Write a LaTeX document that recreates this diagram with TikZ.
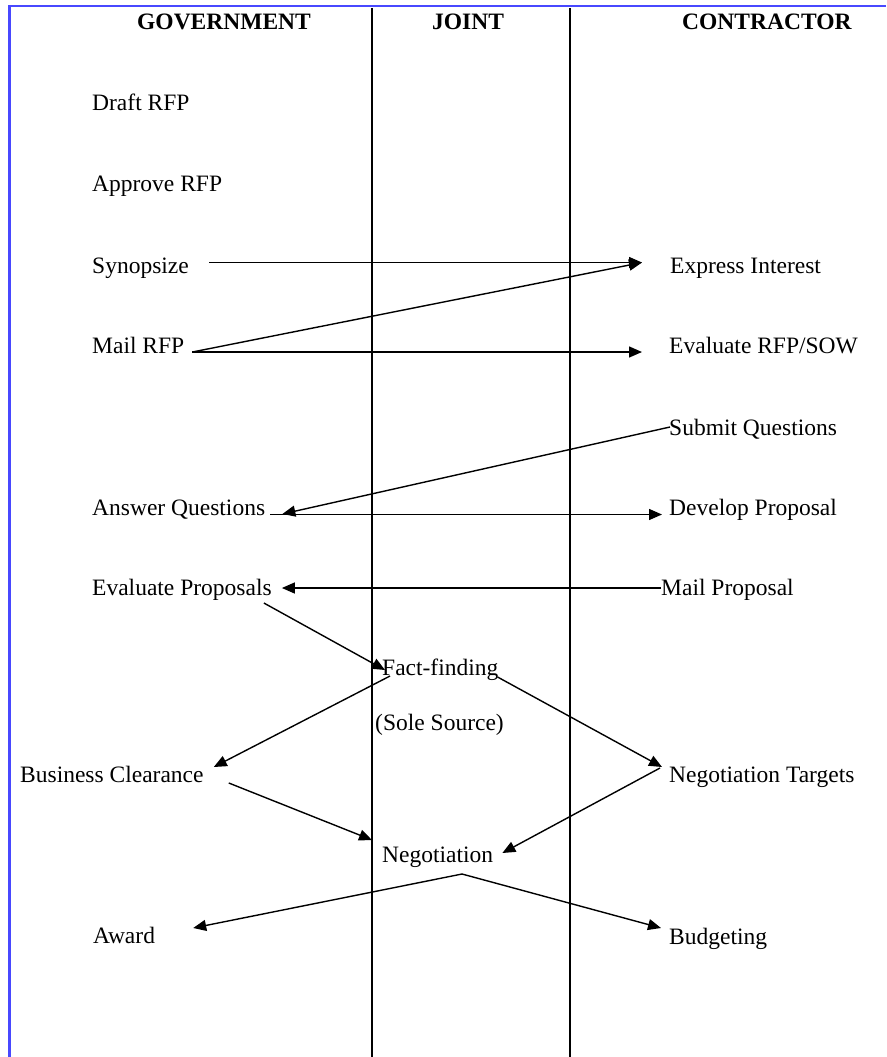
\documentclass[tikz,border=0pt]{standalone}
\usepackage{fontspec}
\setmainfont{Liberation Serif}
\usetikzlibrary{arrows.meta}
\definecolor{frameblue}{RGB}{72,72,255}

\begin{document}
\begin{tikzpicture}[x=1pt, y=-1pt,
	task/.style={anchor=base west, inner sep=0pt, font=\fontsize{23.5}{28}\selectfont},
	lane head/.style={task, font=\fontsize{23.5}{28}\selectfont\bfseries},
	flow/.style={line width=1.4pt, -{Triangle[length=13pt,width=11pt]}}]
	\useasboundingbox (0,0) rectangle (886,1057);

	% Frame and lanes
	\draw [frameblue, line width=2.5pt] (886,6) -- (9.5,6) -- (9.5,1057);
	\foreach \x in {372,570}{
		\draw [line width=1.5pt] (\x,8) -- (\x,1057);
	}

	% Lane headings
	\node [lane head] (gov)   at (137,30) {GOVERNMENT};
	\node [lane head] (joint) at (432,30) {JOINT};
	\node [lane head] (con)   at (682,30) {CONTRACTOR};

	% Government steps
	\node [task] (draft)    at (92,110) {Draft RFP};
	\node [task] (approve)  at (92,191) {Approve RFP};
	\node [task] (synopsize) at (92,273) {Synopsize};
	\node [task] (mail)     at (92,353) {Mail RFP};
	\node [task] (answer)   at (92,515) {Answer Questions};
	\node [task] (evalprop) at (92,595) {Evaluate Proposals};
	\node [task] (business) at (20,782) {Business Clearance};
	\node [task] (award)    at (93,943) {Award};

	% Joint steps
	\node [task] (fact) at (382,675) {Fact-finding};
	\node [task] (sole) at (375,730) {(Sole Source)};
	\node [task] (nego) at (382,862) {Negotiation};

	% Contractor steps
	\node [task] (express)  at (670,273) {Express Interest};
	\node [task] (evalrfp)  at (669,353) {Evaluate RFP/SOW};
	\node [task] (submit)   at (669,435) {Submit Questions};
	\node [task] (develop)  at (669,515) {Develop Proposal};
	\node [task] (mailprop) at (661,595) {Mail Proposal};
	\node [task] (targets)  at (669,782) {Negotiation Targets};
	\node [task] (budget)   at (669,944) {Budgeting};

	% Flows
	\draw [flow] ([xshift=20pt,yshift=10.5pt]synopsize.base east)
	          -- ([xshift=-28pt,yshift=10.5pt]express.base west);
	\draw [flow] ([xshift=8pt,yshift=1pt]mail.base east)
	          -- ([xshift=-28pt,yshift=10.5pt]express.base west);
	\draw [flow] ([xshift=8pt,yshift=1pt]mail.base east)
	          -- ([xshift=-27pt,yshift=1pt]evalrfp.base west);
	\draw [flow] ([xshift=1pt,yshift=8pt]submit.base west)
	          -- ([xshift=17pt,yshift=1pt]answer.base east);
	\draw [flow] ([xshift=5pt,yshift=0.5pt]answer.base east)
	          -- ([xshift=-7pt,yshift=0.5pt]develop.base west);
	\draw [flow] ([yshift=7pt]mailprop.base west)
	          -- ([xshift=10pt,yshift=7pt]evalprop.base east);
	\draw [flow] ([xshift=-8pt,yshift=-8pt]evalprop.base east)
	          -- ([xshift=3pt,yshift=5pt]fact.base west);
	\draw [flow] ([xshift=8pt,yshift=-1pt]fact.base west)
	          -- ([xshift=10pt,yshift=15pt]business.base east);
	\draw [flow] ([xshift=-1pt,yshift=-2pt]fact.base east)
	          -- ([xshift=-7pt,yshift=15pt]targets.base west);
	\draw [flow] ([xshift=25pt,yshift=-1pt]business.base east)
	          -- ([xshift=-10pt,yshift=22pt]nego.base west);
	\draw [flow] ([xshift=-9pt,yshift=14pt]targets.base west)
	          -- ([xshift=9pt,yshift=9pt]nego.base east);

	% Split below negotiation
	\coordinate (split) at ([xshift=80pt,yshift=-12pt]nego.base west);
	\draw [flow] (split) -- ([xshift=38pt,yshift=15pt]award.base east);
	\draw [flow] (split) -- ([xshift=-8pt,yshift=16pt]budget.base west);
\end{tikzpicture}
\end{document}
